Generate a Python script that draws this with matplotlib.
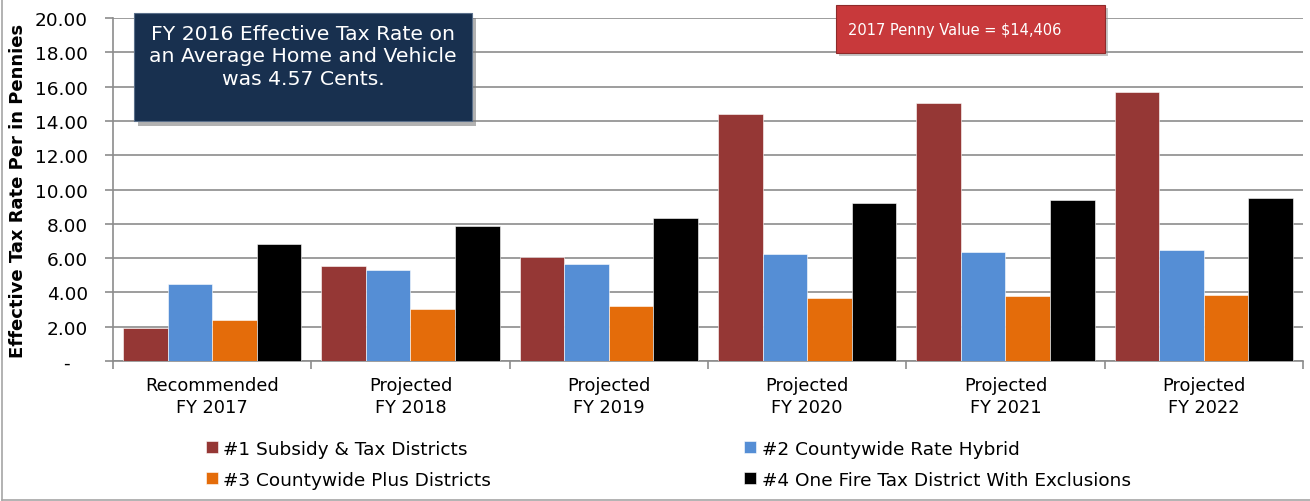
import matplotlib
matplotlib.use("Agg")
import matplotlib.pyplot as plt
import numpy as np
from matplotlib.patches import Rectangle
from matplotlib.lines import Line2D

categories = ["Recommended\nFY 2017", "Projected\nFY 2018", "Projected\nFY 2019",
              "Projected\nFY 2020", "Projected\nFY 2021", "Projected\nFY 2022"]
series_names = ["#1 Subsidy & Tax Districts", "#2 Countywide Rate Hybrid",
                "#3 Countywide Plus Districts", "#4 One Fire Tax District With Exclusions"]
s1 = [1.92, 5.54, 6.06, 14.40, 15.04, 15.69]
s2 = [4.49, 5.31, 5.66, 6.24, 6.36, 6.47]
s3 = [2.39, 3.03, 3.20, 3.67, 3.79, 3.85]
s4 = [6.82, 7.87, 8.34, 9.21, 9.39, 9.50]
colors = ["#953735", "#558ED5", "#E46C0A", "#000000"]
yticks = [0, 2, 4, 6, 8, 10, 12, 14, 16, 18, 20]
ytick_labels = ["-   "] + [f"{v:.2f}" for v in yticks[1:]]

plt.rcParams['font.family'] = ['DejaVu Sans']
fig = plt.figure(figsize=(13.1, 5.02), dpi=100)
ax = fig.add_axes([113/1310, 1-362/502, (1303-113)/1310, (362-19)/502])

x = np.arange(len(categories))
w = 0.225
handles = []
for i, (vals, c) in enumerate(zip([s1, s2, s3, s4], colors)):
    b = ax.bar(x + (i - 1.5) * w, vals, width=w, color=c, edgecolor="white",
               linewidth=0.4, zorder=3, label=series_names[i])
    handles.append(b)

ax.set_xlim(-0.5, len(categories) - 0.5)
ax.set_ylim(0, 20)
ax.set_yticks(yticks)
ax.set_yticklabels(ytick_labels, fontsize=13.3)
ax.yaxis.grid(True, color="#8c8c8c", linewidth=1.2, zorder=0)
ax.set_axisbelow(True)
ax.set_xticks(x)
ax.set_xticklabels(categories, fontsize=12.8, linespacing=1.25)
ax.tick_params(axis='x', length=0, pad=11)
ax.set_xticks(np.arange(-0.5, len(categories)), minor=True)
ax.tick_params(axis='x', which='minor', length=6, color="#8c8c8c", width=1.2)
ax.tick_params(axis='y', length=6, color="#8c8c8c", width=1.2, pad=12)
for s in ["top", "right"]:
    ax.spines[s].set_visible(False)
for s in ["left", "bottom"]:
    ax.spines[s].set_color("#8c8c8c")
    ax.spines[s].set_linewidth(1.2)
ax.set_ylabel("Effective Tax Rate Per in Pennies", fontsize=13, fontweight="bold", labelpad=6)

# legend
order = [0, 2, 1, 3]
leg = fig.legend([handles[i] for i in order], [series_names[i] for i in order],
                 ncol=2, loc="upper left", bbox_to_anchor=(189/1310, 1-424/502),
                 frameon=False, fontsize=13.3, handlelength=0.65, handleheight=0.65,
                 handletextpad=0.3, columnspacing=13.7, labelspacing=0.7)

# navy text box with shadow
sh = Rectangle((138/1310, 1-127/502), (472-134)/1310, (122-14)/502,
               transform=fig.transFigure, facecolor="#7f7f7f", alpha=0.6,
               edgecolor="none", zorder=9)
fig.patches.append(sh)
box = Rectangle((134/1310, 1-122/502), (472-134)/1310, (122-14)/502,
                transform=fig.transFigure, facecolor="#18304f",
                edgecolor="#5a6f8a", linewidth=0.8, zorder=10)
fig.patches.append(box)
fig.text((134+472)/2/1310, 1-57/502,
         "FY 2016 Effective Tax Rate on\nan Average Home and Vehicle\nwas 4.57 Cents.",
         ha="center", va="center", color="white", fontsize=14.7, linespacing=1.25, zorder=11)

# red penny box
sh2 = Rectangle((839/1310, 1-57/502), (1105-836)/1310, (54-6)/502,
                transform=fig.transFigure, facecolor="#8c8c8c", alpha=0.5,
                edgecolor="none", zorder=9)
fig.patches.append(sh2)
box2 = Rectangle((836/1310, 1-54/502), (1105-836)/1310, (54-6)/502,
                 transform=fig.transFigure, facecolor="#c8393b",
                 edgecolor="#8e2a2a", linewidth=0.8, zorder=10)
fig.patches.append(box2)
fig.text(848/1310, 1-31/502, "2017 Penny Value = $14,406", ha="left", va="center",
         color="white", fontsize=10.5, zorder=11)

# figure frame (left and bottom edges)
fig.add_artist(Line2D([2/1310, 2/1310], [1.5/502, 1], transform=fig.transFigure,
                      color="#a6a6a6", linewidth=1.2))
fig.add_artist(Line2D([2/1310, 1], [1.5/502, 1.5/502], transform=fig.transFigure,
                      color="#a6a6a6", linewidth=1.2))

fig.savefig("out.png", dpi=100)
